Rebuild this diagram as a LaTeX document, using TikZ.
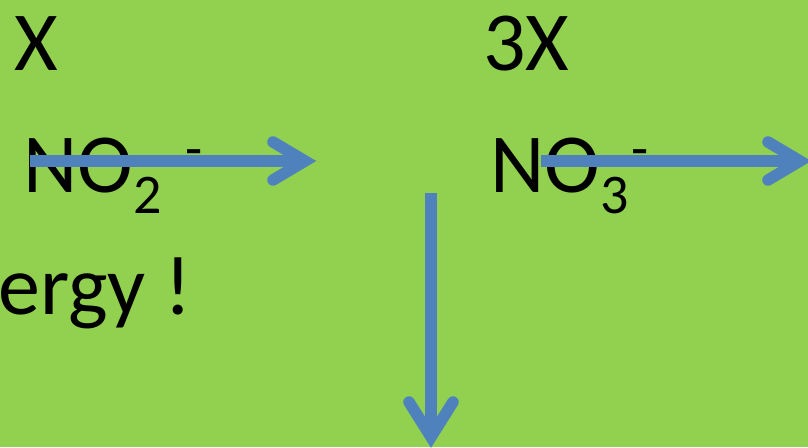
\documentclass[tikz,border=0pt]{standalone}
\usepackage{fontspec}
\setmainfont{Carlito}
\definecolor{leaf}{HTML}{92D050}
\definecolor{flowblue}{HTML}{4F81BD}
\newcommand{\subpart}[1]{\raisebox{-21pt}{\fontsize{56}{56}\selectfont #1}}
\newcommand{\suppart}[1]{\raisebox{25pt}{\fontsize{56}{56}\selectfont #1}}
\begin{document}
\begin{tikzpicture}[x=1pt,y=-1pt,
  label/.style={anchor=base west,inner sep=0pt,font=\fontsize{84}{84}\selectfont},
  shaft/.style={draw=flowblue,line width=11.5pt,line cap=butt},
  chevron/.style={draw=flowblue,line width=11.5pt,line cap=round,line join=miter}]
  \fill[leaf] (0,0) rectangle (808,447);
  \useasboundingbox (0,0) rectangle (808,447);

  % labels
  \node[label] (x1) at (14,70) {X};
  \node[label] (x3) at (483,70) {3X};
  \node[label] (no2) at (23.5,192) {NO\subpart{2}\hspace{24pt}\suppart{-}};
  \node[label] (no3) at (490.5,192) {NO\subpart{3}\hspace{3pt}\suppart{-}};
  \node[label] (energy) at (-2,314) {ergy !};

  % arrow end points
  \coordinate (a1s) at (30,161);
  \coordinate (a1t) at (305,161);
  \coordinate (a2s) at (541,161);
  \coordinate (a2t) at (800,161);
  \coordinate (a3s) at (431,193);
  \coordinate (a3t) at (431,437);

  % arrows: shaft plus open chevron head
  \draw[shaft] (a1s) -- (a1t);
  \draw[chevron] ([shift={(-32,-19)}]a1t) -- (a1t) -- ([shift={(-32,19)}]a1t);
  \draw[shaft] (a2s) -- (a2t);
  \draw[chevron] ([shift={(-32,-19)}]a2t) -- (a2t) -- ([shift={(-32,19)}]a2t);
  \draw[shaft] (a3s) -- (a3t);
  \draw[chevron] ([shift={(-22,-35)}]a3t) -- (a3t) -- ([shift={(22,-35)}]a3t);
\end{tikzpicture}
\end{document}
